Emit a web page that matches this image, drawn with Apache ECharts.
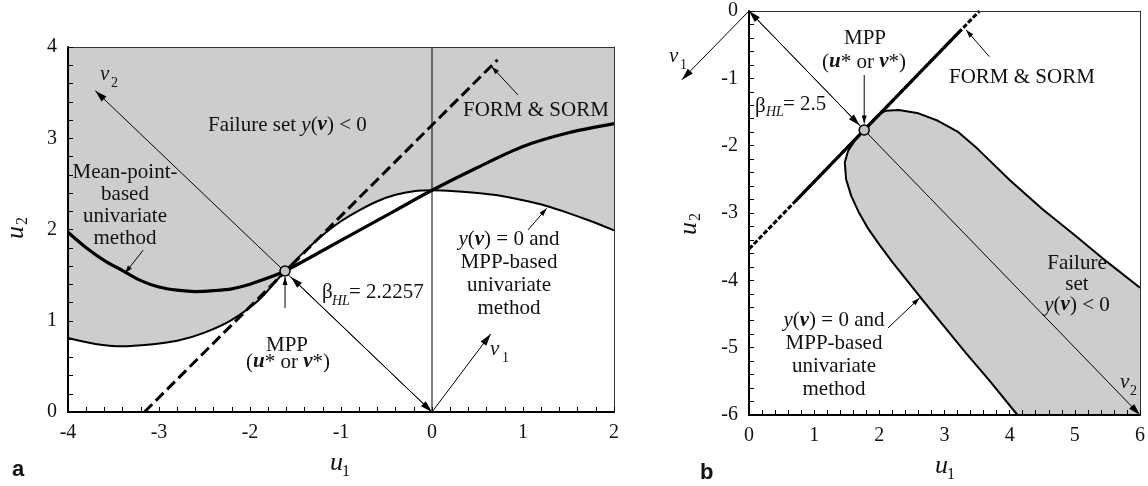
<!DOCTYPE html>
<html><head><meta charset="utf-8">
<script src="https://cdn.jsdelivr.net/npm/echarts@6/dist/echarts.min.js"></script>
<style>html,body{margin:0;padding:0;background:#fff}#c{width:1148px;height:486px}</style>
</head><body><div id="c"></div>
<script>
// ---------------- DATA : panel a ----------------
const xTicksA = [-4, -3, -2, -1, 0, 1, 2];
const yTicksA = [0, 1, 2, 3, 4];
// limit state y(v)=0 (also MPP-based univariate)
const limitA_u1 = [-4, -3.7, -3.4, -3.1, -2.8, -2.5, -2.2, -1.9, -1.615, -1.4, -1.2, -1.0, -0.8, -0.6, -0.4, -0.2, 0, 0.25, 0.5, 0.75, 1.0, 1.25, 1.5, 1.75, 2.0];
const limitA_u2 = [0.81, 0.745, 0.72, 0.74, 0.78, 0.87, 1.01, 1.23, 1.545, 1.76, 1.94, 2.09, 2.21, 2.31, 2.38, 2.42, 2.43, 2.42, 2.40, 2.37, 2.32, 2.26, 2.18, 2.09, 1.99];
// mean-point-based univariate method
const meanA_u1 = [-4, -3.8, -3.6, -3.4, -3.2, -3.0, -2.8, -2.6, -2.4, -2.2, -2.0, -1.8, -1.615, -1.2, -0.8, -0.4, 0, 0.5, 1.0, 1.5, 2.0];
const meanA_u2 = [1.97, 1.80, 1.66, 1.55, 1.44, 1.37, 1.335, 1.32, 1.33, 1.35, 1.40, 1.47, 1.545, 1.77, 1.99, 2.21, 2.43, 2.68, 2.91, 3.06, 3.16];
// FORM & SORM linear approximation
const formA_u1 = [-3.16, 0.72];
const formA_u2 = [0, 3.86];
const mppA = [-1.615, 1.545];
const zeroLineA_u1 = [0, 0];
const zeroLineA_u2 = [0, 4];
// arrows [x1, y1, x2, y2, headAtEnd, headAtStart]
const axisArrowsA = [[0, 0, -3.70, 3.52, 1, 0], [0, 0, 0.645, 0.855, 1, 0], [-1.55, 1.48, 0, 0, 1, 1]];
const pointerArrowsA = [[0.945, 3.474, 0.656, 3.784, 1, 0], [-3.173, 1.775, -3.374, 1.52, 1, 0], [1.055, 1.995, 1.26, 2.232, 1, 0], [-1.615, 1.14, -1.615, 1.48, 1, 0]];

// ---------------- DATA : panel b ----------------
const xTicksB = [0, 1, 2, 3, 4, 5, 6];
const yTicksB = [-6, -5, -4, -3, -2, -1, 0];
const limitB_u1 = [6.0, 5.5, 5.0, 4.5, 4.0, 3.5, 3.2, 2.9, 2.6, 2.3, 2.1, 2.0, 1.9, 1.77, 1.62, 1.52, 1.47, 1.49, 1.57, 1.68, 1.82, 2.0, 2.2, 2.62, 3.0, 3.33, 3.7, 4.12];
const limitB_u2 = [-4.11, -3.73, -3.33, -2.94, -2.51, -2.04, -1.79, -1.63, -1.52, -1.47, -1.48, -1.53, -1.62, -1.76, -1.93, -2.08, -2.25, -2.5, -2.75, -2.98, -3.22, -3.47, -3.73, -4.24, -4.69, -5.08, -5.5, -6.0];
const failCornerB = [6, -6];
const formB_u1 = [0, 3.536];
const formB_u2 = [-3.536, 0];
const formSolidB_u1 = [0.72, 3.26];
const formSolidB_u2 = [-2.816, -0.276];
const mppB = [1.768, -1.768];
const axisArrowsB = [[0, 0, 6, -6, 1, 0], [0, 0, 1.70, -1.70, 1, 1], [0, 0, -1.03, -1.02, 1, 0]];
const pointerArrowsB = [[3.689, -0.678, 3.332, -0.282, 1, 0], [2.132, -4.708, 2.617, -4.263, 1, 0], [1.768, -0.95, 1.768, -1.67, 1, 0]];

// ---------------- helpers ----------------
const SERIF = 'Liberation Serif';
const zip = (a, b) => a.map((v, i) => [v, b[i]]);
const GRAY = '#cdcdcd';

function mainAxis(grid, ticks, pos) {
  return {
    type: 'value', gridIndex: grid, position: pos, z: 5,
    min: ticks[0], max: ticks[ticks.length - 1], interval: 1,
    axisLine: { show: true, onZero: false, lineStyle: { color: '#000', width: 2 } },
    axisTick: { show: true, inside: true, length: 5, lineStyle: { color: '#000', width: 1 } },
    minorTick: { show: true, splitNumber: 5, length: 5, lineStyle: { color: '#000', width: 1 } },
    splitLine: { show: false }, minorSplitLine: { show: false },
    axisLabel: { margin: 11, color: '#111', fontFamily: SERIF, fontSize: 20,
      formatter: function (v) { return '{s|' + v + '}'; },
      rich: { s: { fontFamily: SERIF, fontSize: 20, color: '#111' } } }
  };
}
function borderAxis(grid, ticks, pos) {
  return {
    type: 'value', gridIndex: grid, position: pos, z: 5,
    min: ticks[0], max: ticks[ticks.length - 1], interval: 1,
    axisLine: { show: true, onZero: false, lineStyle: { color: '#333', width: 1 } },
    axisTick: { show: false }, axisLabel: { show: false }, splitLine: { show: false }
  };
}
function arrowRender(len, w) {
  return function (params, api) {
    const p1 = api.coord([api.value(0), api.value(1)]);
    const p2 = api.coord([api.value(2), api.value(3)]);
    const head = (tip, from) => {
      const dx = tip[0] - from[0], dy = tip[1] - from[1];
      const L = Math.hypot(dx, dy) || 1;
      const ux = dx / L, uy = dy / L;
      const bx = tip[0] - ux * len, by = tip[1] - uy * len;
      return { type: 'polygon', shape: { points: [[tip[0], tip[1]], [bx - uy * w, by + ux * w], [bx + uy * w, by - ux * w]] }, style: { fill: '#000' } };
    };
    const ch = [{ type: 'line', shape: { x1: p1[0], y1: p1[1], x2: p2[0], y2: p2[1] }, style: { stroke: '#000', lineWidth: 1 } }];
    if (api.value(4)) ch.push(head(p2, p1));
    if (api.value(5)) ch.push(head(p1, p2));
    return { type: 'group', children: ch };
  };
}
function arrowSeries(data, xi, yi, len, w) {
  return { type: 'custom', xAxisIndex: xi, yAxisIndex: yi, data: data, clip: false, z: 6, silent: true,
    renderItem: arrowRender(len, w) };
}
function lineS(data, xi, yi, width, type, extra) {
  return Object.assign({ type: 'line', xAxisIndex: xi, yAxisIndex: yi, data: data, showSymbol: false, symbol: 'none',
    lineStyle: { color: '#000', width: width, type: type || 'solid' }, z: 4, silent: true, animation: false }, extra || {});
}

// text helpers
const RICH = {
  n: { fontFamily: SERIF, fontSize: 21 },
  i: { fontFamily: SERIF, fontSize: 21, fontStyle: 'italic' },
  bi: { fontFamily: SERIF, fontSize: 21, fontStyle: 'italic', fontWeight: 'bold' }
};
function richWithLH(lh) {
  const r = {};
  for (const k in RICH) r[k] = Object.assign({}, RICH[k], lh ? { lineHeight: lh } : {});
  return r;
}
function T(x, y, text, o) {
  o = o || {};
  const st = { text: text, fill: '#111', font: o.font || ('21px ' + SERIF), align: o.align || 'left', textAlign: o.align || 'left',
    verticalAlign: 'middle', textVerticalAlign: 'middle' };
  if (o.lh) st.lineHeight = o.lh;
  if (o.rich) st.rich = richWithLH(o.lh);
  return { type: 'text', x: x, y: y, z: 100, style: st };
}
function rotLabel(x, y, main, sub) {
  return { type: 'group', x: x, y: y, rotation: Math.PI / 2, z: 100, children: [
    { type: 'text', x: 0, y: 0, style: { text: main, fill: '#111', font: 'italic 26px ' + SERIF, align: 'right', textAlign: 'right', verticalAlign: 'middle', textVerticalAlign: 'middle' } },
    { type: 'text', x: 1, y: 7, style: { text: sub, fill: '#111', font: '16px ' + SERIF, align: 'left', textAlign: 'left', verticalAlign: 'middle', textVerticalAlign: 'middle' } }
  ] };
}
const IT = 'italic 21px ' + SERIF;
const SUB = '14px ' + SERIF;
const SUBI = 'italic 14px ' + SERIF;

const graphics = [
  // panel a
  T(208, 125, '{n|Failure set }{i|y}{n|(}{bi|v}{n|) < 0}', { rich: true }),
  T(463, 110, 'FORM & SORM'),
  T(125, 205, 'Mean-point-\nbased\nunivariate\nmethod', { align: 'center', lh: 22 }),
  T(509, 274, '{i|y}{n|(}{bi|v}{n|) = 0 and}\n{n|MPP-based}\n{n|univariate}\n{n|method}', { align: 'center', lh: 22.7, rich: true }),
  T(287, 345, 'MPP', { align: 'center' }),
  T(288, 362, '{n|(}{bi|u}{n|* or }{bi|v}{n|*)}', { align: 'center', rich: true }),
  T(322, 292, 'β'), T(332, 301, 'HL', { font: SUBI }), T(349, 292, '= 2.2257'),
  T(100, 74, 'v', { font: IT }), T(111, 83, '2', { font: SUB }),
  T(490, 349, 'v', { font: IT }), T(502, 358, '1', { font: SUB }),
  T(330, 463, 'u', { font: 'italic 26px ' + SERIF }), T(342, 472, '1', { font: '16px ' + SERIF }),
  rotLabel(16, 226, 'u', '2'),
  T(12, 470, 'a', { font: 'bold 22px Liberation Sans' }),
  // panel b
  T(865, 38, 'MPP', { align: 'center' }),
  T(864, 62, '{n|(}{bi|u}{n|* or }{bi|v}{n|*)}', { align: 'center', rich: true }),
  T(755, 106, 'β'), T(766, 112, 'HL', { font: SUBI }), T(783, 104, '= 2.5'),
  T(949, 77, 'FORM & SORM'),
  T(1077, 284, '{n|Failure}\n{n|set}\n{i|y}{n|(}{bi|v}{n|) < 0}', { align: 'center', lh: 21, rich: true }),
  T(834, 355, '{i|y}{n|(}{bi|v}{n|) = 0 and}\n{n|MPP-based}\n{n|univariate}\n{n|method}', { align: 'center', lh: 22.7, rich: true }),
  T(1120, 382, 'v', { font: IT }), T(1130, 391, '2', { font: SUB }),
  T(669, 56, 'v', { font: IT }), T(680, 65, '1', { font: SUB }),
  T(935, 466, 'u', { font: 'italic 26px ' + SERIF }), T(947, 475, '1', { font: '16px ' + SERIF }),
  rotLabel(689, 222, 'u', '2'),
  T(700, 473, 'b', { font: 'bold 22px Liberation Sans' })
];

const chart = echarts.init(document.getElementById('c'));
chart.setOption({
  animation: false,
  backgroundColor: '#fff',
  textStyle: { fontFamily: SERIF },
  grid: [
    { left: 68, top: 47, width: 546, height: 365 },
    { left: 749, top: 11, width: 392, height: 404 }
  ],
  xAxis: [mainAxis(0, xTicksA, 'bottom'), borderAxis(0, xTicksA, 'top'), mainAxis(1, xTicksB, 'bottom'), borderAxis(1, xTicksB, 'top')],
  yAxis: [mainAxis(0, yTicksA, 'left'), borderAxis(0, yTicksA, 'right'), mainAxis(1, yTicksB, 'left'), borderAxis(1, yTicksB, 'right')],
  series: [
    // ---- panel a ----
    lineS(zip(limitA_u1, limitA_u2), 0, 0, 2, 'solid', { smooth: 0.3, areaStyle: { color: GRAY, opacity: 1, origin: 'end' }, z: 2 }),
    lineS(zip(zeroLineA_u1, zeroLineA_u2), 0, 0, 1),
    lineS(zip(meanA_u1, meanA_u2), 0, 0, 3.2, 'solid', { smooth: 0.3 }),
    lineS(zip(formA_u1, formA_u2), 0, 0, 3, [11, 5]),
    arrowSeries(axisArrowsA, 0, 0, 12, 3.5),
    arrowSeries(pointerArrowsA, 0, 0, 8, 2.5),
    { type: 'scatter', xAxisIndex: 0, yAxisIndex: 0, data: [mppA], symbolSize: 10, z: 8, silent: true,
      itemStyle: { color: '#c4c4c4', borderColor: '#000', borderWidth: 1.5, opacity: 1 } },
    // ---- panel b ----
    { type: 'custom', xAxisIndex: 2, yAxisIndex: 2, data: [[0, 0]], z: 1, silent: true,
      renderItem: function (params, api) {
        const pts = zip(limitB_u1, limitB_u2).concat([failCornerB]).map(p => api.coord(p));
        return { type: 'polygon', shape: { points: pts }, style: { fill: GRAY, stroke: null } };
      } },
    lineS(zip(limitB_u1, limitB_u2), 2, 2, 2),
    lineS(zip(formB_u1, formB_u2), 2, 2, 3, [5, 2]),
    lineS(zip(formSolidB_u1, formSolidB_u2), 2, 2, 3),
    arrowSeries(axisArrowsB, 2, 2, 12, 3.5),
    arrowSeries(pointerArrowsB, 2, 2, 8, 2.5),
    { type: 'scatter', xAxisIndex: 2, yAxisIndex: 2, data: [mppB], symbolSize: 10, z: 8, silent: true,
      itemStyle: { color: '#c4c4c4', borderColor: '#000', borderWidth: 1.5, opacity: 1 } }
  ],
  graphic: graphics
});
</script>
</body></html>
